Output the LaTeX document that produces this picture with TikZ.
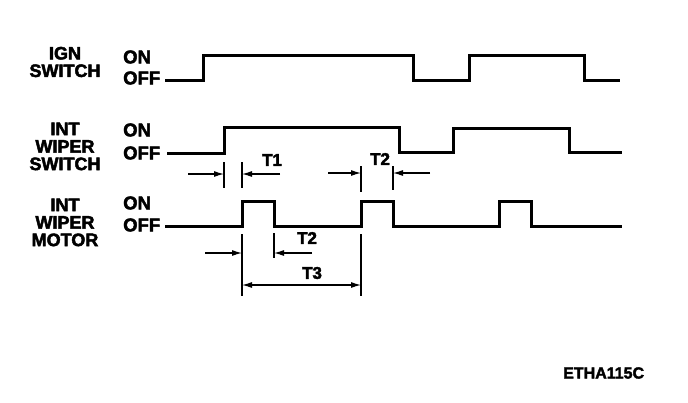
\documentclass[tikz,border=0pt]{standalone}
\usepackage{fontspec}
\setmainfont{Liberation Sans}
\newfontfamily\heavy[FakeBold=2.5]{Liberation Sans Bold}
\usetikzlibrary{arrows.meta}
\begin{document}
\begin{tikzpicture}[x=1pt,y=-1pt,
  sig/.style={line width=3pt,line join=miter,line cap=rect},
  dim/.style={line width=1.1pt},
  tick/.style={line width=2pt},
  arr/.style={dim,-{Latex[length=10pt,width=6pt]}},
  lbl/.style={font=\heavy\fontsize{18}{17.5}\selectfont,inner sep=0pt,align=center},
  st/.style={font=\heavy\fontsize{18.5}{18}\selectfont,inner sep=0pt,anchor=west},
  tl/.style={font=\heavy\fontsize{17}{17}\selectfont,inner sep=0pt}]
\useasboundingbox (0,0) rectangle (688,402);
% labels
\node[lbl] (ign) at (65,62) {IGN\\SWITCH};
\node[lbl] (sw) at (65,146.5) {INT\\WIPER\\SWITCH};
\node[lbl] (mot) at (65,222.5) {INT\\WIPER\\MOTOR};
\node[st] (ign-on) at (123,57) {ON};
\node[st] (ign-off) at (123,78) {OFF};
\node[st] (sw-on) at (123,130) {ON};
\node[st] (sw-off) at (123,153) {OFF};
\node[st] (mot-on) at (123,203) {ON};
\node[st] (mot-off) at (123,225) {OFF};
% signals
\draw[sig] (166,80) -- (203,80) -- (203,55) -- (413,55) -- (413,80) -- (469,80) -- (469,55) -- (584,55) -- (584,80) -- (618,80);
\draw[sig] (168,153) -- (224,153) -- (224,127) -- (399,127) -- (399,152) -- (453,152) -- (453,128) -- (569,128) -- (569,152) -- (620,152);
\draw[sig] (166,226) -- (242,226) -- (242,201) -- (274,201) -- (274,226) -- (361,226) -- (361,201) -- (393,201) -- (393,226) -- (499,226) -- (499,201) -- (531,201) -- (531,226) -- (620,226);
% T1
\coordinate (t1a) at (224,174); \coordinate (t1b) at (242,174);
\draw[tick] (224,162) -- (224,188);
\draw[tick] (242,162) -- (242,188);
\draw[arr] (188,174) -- (t1a);
\draw[arr] (280,174) -- (t1b);
\node[tl] (T1) at (272,160) {T1};
% T2 switch
\coordinate (t2a) at (361,173); \coordinate (t2b) at (393,173);
\draw[tick] (361,166) -- (361,192);
\draw[tick] (393,166) -- (393,190);
\draw[arr] (328,173) -- (t2a);
\draw[arr] (430,173) -- (t2b);
\node[tl] (T2a) at (380,159) {T2};
% T2 motor
\coordinate (t2c) at (242,253); \coordinate (t2d) at (274,253);
\draw[tick] (274,233) -- (274,258);
\draw[arr] (205,253) -- (t2c);
\draw[arr] (312,253) -- (t2d);
\node[tl] (T2b) at (307,238) {T2};
% T3
\coordinate (t3a) at (242,285); \coordinate (t3b) at (361,285);
\draw[tick] (242,234) -- (242,296);
\draw[tick] (361,234) -- (361,296);
\draw[dim,{Latex[length=10pt,width=6pt]}-{Latex[length=10pt,width=6pt]}] (t3a) -- (t3b);
\node[tl] (T3) at (312,273) {T3};
% code
\node[font=\heavy\fontsize{16}{17}\selectfont,inner sep=0pt,anchor=west] (code) at (563,373) {ETHA115C};
\end{tikzpicture}
\end{document}
